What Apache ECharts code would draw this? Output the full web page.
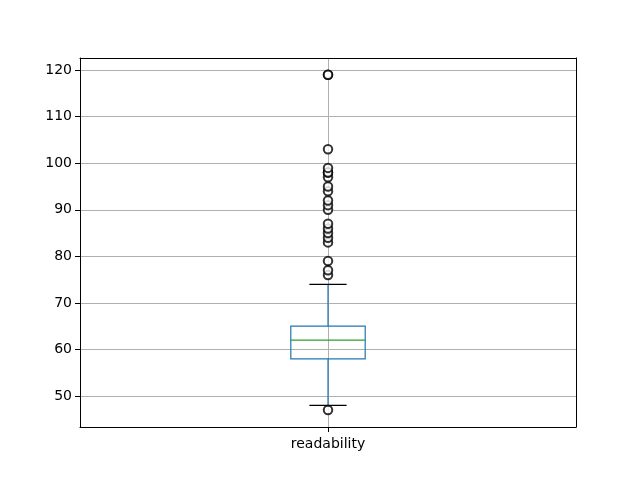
<!DOCTYPE html>
<html>
<head>
<meta charset="utf-8">
<script src="https://cdn.jsdelivr.net/npm/echarts@6/dist/echarts.min.js"></script>
<style>html,body{margin:0;padding:0;background:#fff}#c{width:640px;height:480px}</style>
</head>
<body>
<div id="c"></div>
<script>
const categories = ['readability'];
// [whiskerLow, q1, median, q3, whiskerHigh]
const boxStats = [48, 58, 62, 65, 74];
const outliers = [47, 76, 77, 79, 83, 84, 85, 86, 87, 90, 91, 92, 94, 95, 97, 98, 98, 99, 103, 119, 119];
const yTicks = [50, 60, 70, 80, 90, 100, 110, 120];

const chart = echarts.init(document.getElementById('c'), null, {renderer: 'canvas'});
const font = 'DejaVu Sans';
const catPos = 1;

const option = {
  animation: false,
  backgroundColor: '#ffffff',
  grid: {left: 80, right: 64, top: 58, bottom: 53, show: false},
  xAxis: [{
    type: 'value', min: 0, max: 2, interval: 1, z: 0,
    axisLine: {show: true, onZero: false, lineStyle: {color: '#000', width: 1}},
    axisTick: {show: true, length: 5, customValues: [catPos], lineStyle: {color: '#000'}},
    axisLabel: {customValues: [catPos], formatter: v => (Math.round(v) === catPos ? categories[0] : ''),
      color: '#000', fontFamily: font, fontSize: 14, margin: 10},
    splitLine: {show: true, lineStyle: {color: '#b0b0b0', width: 1}}
  }, {
    type: 'value', min: 0, max: 2, position: 'top', z: 0,
    axisLine: {show: true, onZero: false, lineStyle: {color: '#000', width: 1}},
    axisTick: {show: false}, axisLabel: {show: false}, splitLine: {show: false}
  }],
  yAxis: [{
    type: 'value', min: 43.35, max: 122.6, z: 3,
    axisLine: {show: true, onZero: false, lineStyle: {color: '#000', width: 1}},
    axisTick: {show: true, length: 5, customValues: yTicks, lineStyle: {color: '#000'}},
    axisLabel: {customValues: yTicks, color: '#000', fontFamily: font, fontSize: 14, margin: 8},
    splitLine: {show: true, lineStyle: {color: '#b0b0b0', width: 1}}
  }, {
    type: 'value', min: 43.35, max: 122.6, position: 'right', z: 3,
    axisLine: {show: true, onZero: false, lineStyle: {color: '#000', width: 1}},
    axisTick: {show: false}, axisLabel: {show: false}, splitLine: {show: false}
  }],
  series: [{
    type: 'custom',
    z: 5,
    data: [[catPos].concat(boxStats)],
    renderItem: function (params, api) {
      const x = api.value(0);
      const lo = api.coord([x, api.value(1)]);
      const q1 = api.coord([x, api.value(2)]);
      const med = api.coord([x, api.value(3)]);
      const q3 = api.coord([x, api.value(4)]);
      const hi = api.coord([x, api.value(5)]);
      const unit = api.size([1, 0])[0];
      const bw = unit * 0.15;
      const cw = unit * 0.075;
      const blue = '#1f77b4';
      return {
        type: 'group',
        children: [
          {type: 'line', shape: {x1: lo[0], y1: lo[1], x2: q1[0], y2: q1[1]}, style: {stroke: blue, lineWidth: 1.2}},
          {type: 'line', shape: {x1: q3[0], y1: q3[1], x2: hi[0], y2: hi[1]}, style: {stroke: blue, lineWidth: 1.2}},
          {type: 'rect', shape: {x: q3[0] - bw, y: q3[1], width: 2 * bw, height: q1[1] - q3[1]}, style: {fill: 'none', stroke: blue, lineWidth: 1.2}},
          {type: 'line', shape: {x1: med[0] - bw, y1: med[1], x2: med[0] + bw, y2: med[1]}, style: {stroke: '#2ca02c', lineWidth: 1.2}},
          {type: 'line', shape: {x1: lo[0] - cw, y1: lo[1], x2: lo[0] + cw, y2: lo[1]}, style: {stroke: '#000', lineWidth: 1.2}},
          {type: 'line', shape: {x1: hi[0] - cw, y1: hi[1], x2: hi[0] + cw, y2: hi[1]}, style: {stroke: '#000', lineWidth: 1.2}}
        ]
      };
    }
  }, {
    type: 'scatter',
    z: 6,
    symbol: 'emptyCircle',
    symbolSize: 8.5,
    itemStyle: {color: '#000', borderColor: '#000', borderWidth: 1},
    data: outliers.map(v => [catPos, v])
  }]
};
chart.setOption(option);
</script>
</body>
</html>
